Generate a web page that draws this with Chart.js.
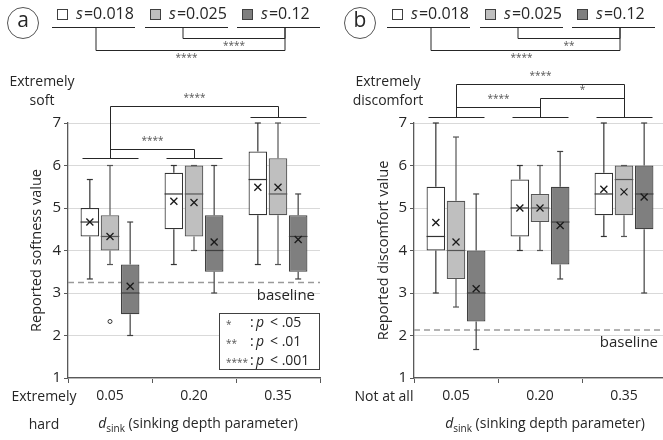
<!DOCTYPE html>
<html>
<head>
<meta charset="utf-8">
<script src="https://cdn.jsdelivr.net/npm/chart.js@4"></script>
<style>
  html, body { margin: 0; padding: 0; overflow: hidden; background: #fff; width: 663px; height: 440px; }
  #panelA { position: absolute; left: 0; top: 0; }
  #panelB { position: absolute; left: 330px; top: 0; }
</style>
</head>
<body>
<canvas id="panelA" width="330" height="440"></canvas>
<canvas id="panelB" width="340" height="440"></canvas>
<script>
// categorie e serie
const categories = ["0.05", "0.20", "0.35"]
const seriesNames = ["0.018", "0.025", "0.12"]

// (a) softness: una riga per serie, un valore per categoria
const softMin = [[3.33, 3.67, 3.67], [3.67, 4.0, 3.67], [2.0, 3.0, 3.33]]
const softQ1 = [[4.33, 4.5, 4.83], [4.0, 4.33, 4.83], [2.5, 3.5, 3.5]]
const softMedian = [[4.67, 5.33, 5.67], [4.33, 5.33, 5.33], [3.0, 4.0, 4.33]]
const softQ3 = [[5.0, 5.83, 6.33], [4.83, 6.0, 6.17], [3.67, 4.83, 4.83]]
const softMax = [[5.67, 6.0, 7.0], [6.0, 6.0, 7.0], [4.67, 6.0, 5.33]]
const softMean = [[4.67, 5.16, 5.49], [4.33, 5.13, 5.49], [3.16, 4.2, 4.26]]
const softOutliers = [[1, 0, 2.33]] // serie, categoria, valore
const softBaseline = 3.25

// (b) discomfort
const discMin = [[3.0, 4.0, 4.33], [2.67, 4.0, 4.33], [1.67, 3.33, 3.0]]
const discQ1 = [[4.0, 4.33, 4.83], [3.33, 4.67, 4.83], [2.33, 3.67, 4.5]]
const discMedian = [[4.33, 5.0, 5.33], [4.0, 5.0, 5.67], [3.0, 4.67, 5.33]]
const discQ3 = [[5.5, 5.67, 5.83], [5.17, 5.33, 6.0], [4.0, 5.5, 6.0]]
const discMax = [[7.0, 6.0, 7.0], [6.67, 6.0, 6.0], [5.33, 6.33, 7.0]]
const discMean = [[4.66, 5.0, 5.44], [4.2, 5.0, 5.38], [3.1, 4.59, 5.26]]
const discOutliers = []
const discBaseline = 2.13

// significativita
const softSeriesSig = [[0, 2, "****"], [1, 2, "****"]]
const discSeriesSig = [[0, 2, "****"], [1, 2, "**"]]
const softCatSig = [[0, 2, "****"], [0, 1, "****"]]
const discCatSig = [[0, 2, "****"], [0, 1, "****"], [1, 2, "*"]]

// stili
const FONT = "'Open Sans', 'Noto Sans', sans-serif"
const fills = ["#ffffff", "#bfbfbf", "#7f7f7f"]
const edges = ["#333333", "#555555", "#404040"]
const TXT = "#262626"

function line(ctx, x1, y1, x2, y2) {
  ctx.beginPath()
  ctx.moveTo(x1, y1)
  ctx.lineTo(x2, y2)
  ctx.stroke()
}

function makePanel(id, p) {
  const boxPlugin = {
    id: "box" + id,
    beforeDatasetsDraw(chart) {
      // BASELINE TRATTEGGIATA
      const { ctx, chartArea, scales: { y } } = chart
      const yb = y.getPixelForValue(p.baseline)
      ctx.save()
      ctx.strokeStyle = "#9a9a9a"
      ctx.lineWidth = 1.5
      ctx.setLineDash([6, 4])
      line(ctx, chartArea.left, yb, chartArea.right, yb)
      ctx.setLineDash([])
      ctx.fillStyle = TXT
      ctx.font = "15px " + FONT
      ctx.textAlign = "right"
      ctx.textBaseline = "middle"
      ctx.fillText("baseline", p.baseLabelX, yb + 13)
      ctx.restore()
    },
    afterDatasetsDraw(chart) {
      const { ctx, scales: { y } } = chart
      ctx.save()
      for (let s = 0; s < 3; s++) {
        const meta = chart.getDatasetMeta(s)
        meta.data.forEach((bar, c) => {
          const { x, width } = bar.getProps(["x", "width"], true)
          const half = width / 2
          ctx.strokeStyle = edges[s]
          ctx.lineWidth = 1.2
          // baffi
          const yq1 = y.getPixelForValue(p.q1[s][c])
          const yq3 = y.getPixelForValue(p.q3[s][c])
          const ymin = y.getPixelForValue(p.min[s][c])
          const ymax = y.getPixelForValue(p.max[s][c])
          line(ctx, x, yq3, x, ymax)
          line(ctx, x, yq1, x, ymin)
          line(ctx, x - 3, ymax, x + 3, ymax)
          line(ctx, x - 3, ymin, x + 3, ymin)
          // mediana
          const ym = y.getPixelForValue(p.median[s][c])
          line(ctx, x - half, ym, x + half, ym)
          // media
          const yme = y.getPixelForValue(p.mean[s][c])
          ctx.strokeStyle = "#1a1a1a"
          ctx.lineWidth = 1.3
          line(ctx, x - 3.5, yme - 3.5, x + 3.5, yme + 3.5)
          line(ctx, x - 3.5, yme + 3.5, x + 3.5, yme - 3.5)
        })
      }
      // outlier
      p.outliers.forEach(([s, c, v]) => {
        const bar = chart.getDatasetMeta(s).data[c]
        ctx.beginPath()
        ctx.strokeStyle = "#333"
        ctx.lineWidth = 1
        ctx.fillStyle = "#fff"
        ctx.arc(bar.x, y.getPixelForValue(v), 2, 0, Math.PI * 2)
        ctx.fill()
        ctx.stroke()
      })
      ctx.restore()
    },
    afterDraw(chart) {
      const { ctx, chartArea, scales: { x } } = chart
      ctx.save()
      ctx.fillStyle = TXT
      ctx.strokeStyle = "#262626"
      ctx.lineWidth = 1
      ctx.textBaseline = "middle"

      // CERCHIO CON LETTERA
      ctx.beginPath()
      ctx.arc(p.circleX, 23, 15.5, 0, Math.PI * 2)
      ctx.strokeStyle = "#555"
      ctx.stroke()
      ctx.textAlign = "center"
      ctx.font = "21px " + FONT
      ctx.fillText(p.letter, p.circleX, 21)

      // LEGENDA SERIE
      ctx.strokeStyle = "#262626"
      const legX = [p.legX, p.legX + 93, p.legX + 185]
      for (let s = 0; s < 3; s++) {
        const lx = legX[s]
        ctx.fillStyle = fills[s]
        ctx.fillRect(lx + 0.5, 9.5, 10, 10)
        ctx.strokeStyle = "#404040"
        ctx.strokeRect(lx + 0.5, 9.5, 10, 10)
        ctx.fillStyle = TXT
        ctx.textAlign = "left"
        ctx.font = "italic 16px " + FONT
        ctx.fillText("s", lx + 19, 14)
        const sw = ctx.measureText("s").width
        ctx.font = "16px " + FONT
        ctx.fillText("=" + seriesNames[s], lx + 19 + sw + 1, 14)
        ctx.strokeStyle = "#262626"
        line(ctx, lx - 5, 27.5, lx + 78, 27.5)
      }
      // parentesi tra serie
      const legs = [p.legX + 39, p.legX + 126, p.legX + 228]
      const sigY = [50.5, 38.5]
      p.seriesSig.forEach(([a, b, lab], k) => {
        const yy = sigY[k]
        ctx.strokeStyle = "#262626"
        line(ctx, legs[a], 27.5, legs[a], yy)
        line(ctx, legs[b], 27.5, legs[b], yy)
        line(ctx, legs[a], yy, legs[b], yy)
        ctx.fillStyle = "#555"
        ctx.font = "10px " + FONT
        ctx.textAlign = "center"
        ctx.fillText(lab, (legs[a] + legs[b]) / 2 + (k === 0 ? -4 : 0), yy + 8)
      })

      // parentesi tra categorie
      ctx.strokeStyle = "#262626"
      const cx = categories.map((c, i) => Math.round(x.getPixelForValue(i)) + 0.5)
      cx.forEach((xx, i) => line(ctx, xx - 28, p.groupY[i], xx + 28, p.groupY[i]))
      p.catSig.forEach(([a, b, lab], k) => {
        const yy = p.catY[k]
        line(ctx, cx[a], yy, cx[a], p.groupY[a])
        line(ctx, cx[b], yy, cx[b], p.groupY[b])
        line(ctx, cx[a], yy, cx[b], yy)
        ctx.fillStyle = "#555"
        ctx.font = "10px " + FONT
        ctx.textAlign = "center"
        ctx.fillText(lab, (cx[a] + cx[b]) / 2, yy - 8)
      })

      // ETICHETTE ESTREMI
      ctx.fillStyle = TXT
      ctx.font = "14px " + FONT
      ctx.textAlign = "center"
      ctx.fillText(p.topLabel[0], p.topLabelX, 82)
      ctx.fillText(p.topLabel[1], p.topLabelX, 101)
      p.bottomLabel.forEach((t, i) => ctx.fillText(t, p.bottomLabelX, 397 + i * 28))

      // TITOLO ASSE X con pedice
      const mid = (chartArea.left + chartArea.right) / 2 + p.titleDx
      ctx.font = "italic 14px " + FONT
      const w1 = ctx.measureText("d").width
      ctx.font = "10px " + FONT
      const w2 = ctx.measureText("sink").width
      ctx.font = "14px " + FONT
      const rest = " (sinking depth parameter)"
      const w3 = ctx.measureText(rest).width
      let tx = mid - (w1 + w2 + w3) / 2
      ctx.textAlign = "left"
      ctx.font = "italic 14px " + FONT
      ctx.fillText("d", tx, 424)
      ctx.font = "10px " + FONT
      ctx.fillText("sink", tx + w1, 429)
      ctx.font = "14px " + FONT
      ctx.fillText(rest, tx + w1 + w2, 424)

      // RIQUADRO P-VALUE
      if (p.showKey) {
        ctx.fillStyle = "#fff"
        ctx.fillRect(219.5, 313.5, 100, 56)
        ctx.strokeStyle = "#404040"
        ctx.strokeRect(219.5, 313.5, 100, 56)
        const keyRows = [["*", ".05"], ["**", ".01"], ["****", ".001"]]
        keyRows.forEach(([st, v], i) => {
          const ry = 323 + i * 19
          ctx.fillStyle = "#555"
          ctx.font = "10px " + FONT
          ctx.textAlign = "left"
          ctx.fillText(st, 226, ry + 2)
          ctx.fillStyle = TXT
          ctx.font = "14px " + FONT
          ctx.fillText(":", 250, ry)
          ctx.font = "italic 14px " + FONT
          ctx.fillText("p", 256, ry)
          ctx.font = "14px " + FONT
          ctx.fillText("< " + v, 270, ry)
        })
      }
      ctx.restore()
    },
  }

  return new Chart(document.getElementById(id), {
    type: "bar",
    data: {
      labels: categories,
      datasets: seriesNames.map((n, s) => ({
        label: "s=" + n,
        data: categories.map((c, i) => [p.q1[s][i], p.q3[s][i]]),
        backgroundColor: fills[s],
        borderColor: edges[s],
        borderWidth: 1.2,
        borderSkipped: false,
        categoryPercentage: 0.72,
        barPercentage: 0.92,
      })),
    },
    options: {
      responsive: false,
      animation: false,
      layout: { padding: { top: 123, left: p.padLeft, right: p.padRight, bottom: 0 } },
      plugins: { legend: { display: false }, tooltip: { enabled: false } },
      scales: {
        x: {
          afterFit: (s) => { s.height = 62 },
          grid: { display: true, drawOnChartArea: false, offset: true, tickLength: 5, tickColor: "#595959" },
          border: { color: "#595959", width: 1.3 },
          ticks: { color: TXT, font: { family: FONT, size: 14 }, padding: 5 },
        },
        y: {
          min: 1,
          max: 7,
          afterFit: (s) => { s.width = p.yWidth },
          ticks: { stepSize: 1, color: TXT, font: { family: FONT, size: 15 }, padding: 3 },
          grid: { color: "#d9d9d9", tickLength: 4, tickColor: "#595959" },
          border: { color: "#595959", width: 1.3 },
          title: { display: true, text: p.yTitle, color: TXT, font: { family: FONT, size: 14.5 }, padding: { top: 3, bottom: 0 } },
        },
      },
    },
    plugins: [boxPlugin],
  })
}

makePanel("panelA", {
  letter: "a", circleX: 23, legX: 57,
  min: softMin, q1: softQ1, median: softMedian, q3: softQ3, max: softMax, mean: softMean,
  outliers: softOutliers, baseline: softBaseline, baseLabelX: 315,
  seriesSig: softSeriesSig, catSig: softCatSig,
  groupY: [158.5, 158.5, 117.5], catY: [106.5, 149.5],
  yTitle: "Reported softness value", padLeft: 25, yWidth: 43, padRight: 10,
  topLabel: ["Extremely", "soft"], topLabelX: 42,
  bottomLabel: ["Extremely", "hard"], bottomLabelX: 44,
  titleDx: 4, showKey: true,
})

makePanel("panelB", {
  letter: "b", circleX: 30, legX: 62,
  min: discMin, q1: discQ1, median: discMedian, q3: discQ3, max: discMax, mean: discMean,
  outliers: discOutliers, baseline: discBaseline, baseLabelX: 328,
  seriesSig: discSeriesSig, catSig: discCatSig,
  groupY: [117.5, 117.5, 117.5], catY: [84.5, 107.5, 98.5],
  yTitle: "Reported discomfort value", padLeft: 42, yWidth: 42, padRight: 4,
  topLabel: ["Extremely", "discomfort"], topLabelX: 58,
  bottomLabel: ["Not at all"], bottomLabelX: 54,
  titleDx: 5, showKey: false,
})
</script>
</body>
</html>
